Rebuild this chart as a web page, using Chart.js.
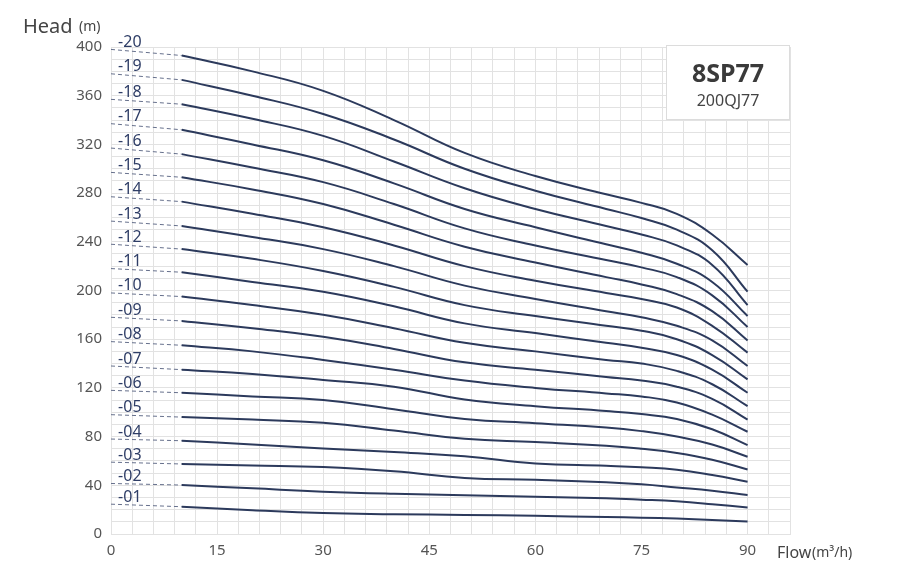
<!DOCTYPE html>
<html>
<head>
<meta charset="utf-8">
<script src="https://cdn.jsdelivr.net/npm/chart.js@4.4.0/dist/chart.umd.min.js"></script>
<style>
  html, body { margin: 0; padding: 0; background: #fff; }
  #wrap { width: 899px; height: 567px; }
</style>
</head>
<body>
<div id="wrap"><canvas id="pumpChart" width="899" height="567"></canvas></div>
<script>
// flow points (m3/h) where the heads were read
var flow = [10, 20, 30, 40, 50, 60, 70, 75, 80, 85, 90];
var stages = ['-01','-02','-03','-04','-05','-06','-07','-08','-09','-10',
              '-11','-12','-13','-14','-15','-16','-17','-18','-19','-20'];
// head at zero flow (start of dashed part)
var shutoff = [24.5, 41.5, 59, 78, 98, 118, 138, 158, 178, 198,
               218, 238, 257, 277, 297, 317, 337, 357, 378, 398];

// head (m) per stage count, read along flow[]
var s01 = [22.4, 19.5, 17.2, 16.3, 15.7, 14.9, 14.0, 13.4, 12.7, 11.6, 10.2];
var s02 = [40.2, 37.5, 34.8, 33.0, 31.8, 30.5, 29.3, 28.2, 26.8, 24.5, 21.8];
var s03 = [57.5, 56.3, 55.0, 51.5, 46.0, 44.5, 42.5, 40.8, 38.2, 35.5, 32.0];
var s04 = [76.6, 73.5, 70.3, 67.3, 63.8, 58.0, 56.0, 54.8, 52.8, 48.5, 43.0];
var s05 = [96, 94, 91.3, 85, 78.2, 75.5, 72.5, 70, 66.5, 61, 53];
var s06 = [116, 113, 110, 102.5, 94.5, 91, 87.5, 84.5, 80, 73.5, 63.5];
var s07 = [135, 131.5, 126.5, 121, 110.5, 105, 101, 98.5, 94.5, 86, 73];
var s08 = [155, 150, 143, 135, 126, 120, 115.5, 113, 108, 98, 84];
var s09 = [175, 169, 162, 152, 141, 135, 129, 126, 121, 111, 94];
var s10 = [195, 188, 180, 169, 157, 150, 143, 140, 134, 123, 105];
var s11 = [215, 207, 199, 187, 173, 165, 157, 153, 147, 135, 116];
var s12 = [234, 226, 216, 203, 188, 179, 171, 167, 160, 147, 127];
var s13 = [253, 244, 234, 220, 204, 193, 183, 178, 171, 159, 138];
var s14 = [273, 263, 252, 237, 220, 208, 198, 193, 186, 171, 149];
var s15 = [293, 283, 271, 254, 236, 223, 211, 205, 197, 183, 159];
var s16 = [312, 301, 289, 271, 251, 237, 225, 219, 211, 196, 170];
var s17 = [332, 320, 307, 288, 267, 252, 238, 231, 222, 207, 179];
var s18 = [353, 341, 327, 306, 284, 267, 253, 246, 237, 221, 188];
var s19 = [373, 360, 345, 324, 300, 282, 267, 259.5, 250, 233, 199];
var s20 = [393, 380, 364, 340, 313, 294, 279, 272, 263, 246, 221];
var heads = [s01, s02, s03, s04, s05, s06, s07, s08, s09, s10,
             s11, s12, s13, s14, s15, s16, s17, s18, s19, s20];

var xTicks = [0, 15, 30, 45, 60, 75, 90];
var yTicks = [0, 40, 80, 120, 160, 200, 240, 280, 320, 360, 400];
var modelName = '8SP77';
var modelSub = '200QJ77';

var lineColor = '#2c3a5c';
var gridColor = '#e2e2e2';
var tickColor = '#555555';
var FONT = '"Noto Sans", "DejaVu Sans", sans-serif';

var datasets = [];
$each = function(arr, fn){ for (var i = 0; i < arr.length; i++) fn(i, arr[i]); };
$each(heads, function(k, h){
	// dashed part from zero flow to first point
	datasets.push({
		data: [{x: 0, y: shutoff[k]}, {x: flow[0], y: h[0]}],
		borderColor: '#66708c',
		borderWidth: 1,
		borderDash: [4, 3],
		pointRadius: 0,
		tension: 0
	});
	var pts = [];
	$each(flow, function(i, q){ pts.push({x: q, y: h[i]}); });
	datasets.push({
		data: pts,
		borderColor: lineColor,
		borderWidth: 2,
		pointRadius: 0,
		tension: 0.45
	});
});

var decoPlugin = {
	id: 'deco',
	afterDraw: function(chart){
		var ctx = chart.ctx, a = chart.chartArea;
		var xs = chart.scales.x, ys = chart.scales.y;
		ctx.save();
		// stage labels
		ctx.fillStyle = '#2e3d66';
		ctx.font = '16px ' + FONT;
		ctx.textAlign = 'left';
		ctx.textBaseline = 'bottom';
		$each(stages, function(k, s){
			ctx.fillText(s, xs.getPixelForValue(1.0), ys.getPixelForValue(shutoff[k]) + 1);
		});
		// model box
		var bw = 124, bh = 75;
		var bx = a.right - bw, by = a.top - 2;
		ctx.fillStyle = '#ffffff';
		ctx.fillRect(bx, by, bw, bh);
		ctx.strokeStyle = '#dcdcdc';
		ctx.lineWidth = 1;
		ctx.strokeRect(bx + 0.5, by + 0.5, bw - 1, bh - 1);
		ctx.textAlign = 'center';
		ctx.textBaseline = 'alphabetic';
		ctx.fillStyle = '#3a3a3a';
		ctx.font = 'bold 25px ' + FONT;
		ctx.fillText(modelName, bx + bw / 2, by + 37);
		ctx.fillStyle = '#444';
		ctx.font = '16px ' + FONT;
		ctx.fillText(modelSub, bx + bw / 2, by + 61);
		// axis titles
		ctx.textAlign = 'left';
		ctx.fillStyle = '#444';
		ctx.font = '20px ' + FONT;
		ctx.fillText('Head', 23, 33);
		ctx.font = '14px ' + FONT;
		ctx.fillText('(m)', 79, 31);
		ctx.font = '16px ' + FONT;
		ctx.fillText('Flow', 777, 558);
		ctx.font = '14px ' + FONT;
		ctx.fillText('(m\u00B3/h)', 812, 557);
		ctx.restore();
	}
};

var ctx = document.getElementById('pumpChart');
var chart = new Chart(ctx, {
	type: 'line',
	data: { datasets: datasets },
	options: {
		responsive: false,
		animation: false,
		layout: { padding: { top: 47, right: 109, left: 0, bottom: 0 } },
		plugins: { legend: { display: false }, tooltip: { enabled: false } },
		scales: {
			x: {
				type: 'linear', min: 0, max: 96,
				afterFit: function(s){ s.height = 33; },
				afterBuildTicks: function(s){
					var t = [];
					for (var v = 0; v <= 96; v += 3) t.push({value: v});
					s.ticks = t;
				},
				ticks: {
					autoSkip: false, maxRotation: 0, padding: 8,
					color: tickColor, font: { size: 15, family: FONT },
					callback: function(v){ return xTicks.indexOf(v) >= 0 ? String(v) : ''; }
				},
				grid: { color: gridColor, lineWidth: 1, drawTicks: false },
				border: { color: gridColor }
			},
			y: {
				type: 'linear', min: 0, max: 400,
				afterFit: function(s){ s.width = 111; },
				afterBuildTicks: function(s){
					var t = [];
					for (var v = 0; v <= 400; v += 10) t.push({value: v});
					s.ticks = t;
				},
				ticks: {
					autoSkip: false, padding: 9,
					color: tickColor, font: { size: 15, family: FONT },
					callback: function(v){ return yTicks.indexOf(v) >= 0 ? String(v) : ''; }
				},
				grid: { color: gridColor, lineWidth: 1, drawTicks: false },
				border: { color: gridColor }
			}
		}
	},
	plugins: [decoPlugin]
});
</script>
</body>
</html>
